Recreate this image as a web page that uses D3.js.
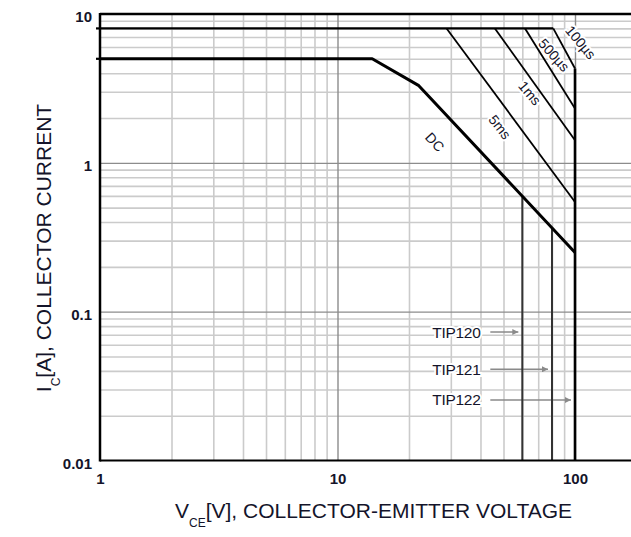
<!DOCTYPE html>
<html>
<head>
<meta charset="utf-8">
<title>TIP120 - Safe Operating Area</title>
<script src="https://cdn.jsdelivr.net/npm/d3@7"></script>
<style>
	body { margin: 0; background: #fff; }
	svg { display: block; font-family: "Liberation Sans", Arial, sans-serif; }
	.grid-minor line { stroke: #cbcbcb; stroke-width: 1.6; }
	.grid-major line { stroke: #8c8c8c; stroke-width: 1.4; }
	.tick-label text { font-size: 15px; font-weight: bold; fill: #14142a; }
	.curve-label { font-size: 14px; fill: #14142a; stroke: #fff; stroke-width: 4px; paint-order: stroke; }
	.dev-label { font-size: 15.5px; fill: #14142a; stroke: #fff; stroke-width: 4px; paint-order: stroke; letter-spacing: -0.3px; }
	.title { font-size: 21px; fill: #14142a; }
</style>
</head>
<body>
<div id="chart"></div>
<script>
// ---- data ----
var xDecades = [1, 10, 100];
var xDecadeLabels = ["1", "10", "100"];
var yDecades = [0.01, 0.1, 1, 10];
var yDecadeLabels = ["0.01", "0.1", "1", "10"];
var xMinor = [2, 3, 4, 5, 6, 7, 8, 9, 20, 30, 40, 50, 60, 70, 80, 90, 200];
var yMinor = [0.02, 0.03, 0.04, 0.05, 0.06, 0.07, 0.08, 0.09,
              0.2, 0.3, 0.4, 0.5, 0.6, 0.7, 0.8, 0.9,
              2, 3, 4, 5, 6, 7, 8, 9];

// DC limit (Vce, Ic)
var dcVce = [1, 14, 22, 100];
var dcIc  = [5, 5, 3.3, 0.25];

// pulsed limits: start on the 8 A line, end on the 100 V line
var pulseIcMax = 8;
var pulseNames  = ["5ms", "1ms", "500µs", "100µs"];
var pulseStartV = [28.8, 46, 61.6, 81];
var pulseEndIc  = [0.546, 1.42, 2.32, 4.3];

// curve labels
var curveLabels = ["DC", "5ms", "1ms", "500µs", "100µs"];
var curveLabelV = [25.7, 48.3, 64.6, 81.6, 105.7];
var curveLabelI = [1.38, 1.74, 2.94, 5.30, 6.45];
var curveLabelAngle = [47, 52, 50, 48, 50];

// device voltage limits
var devices  = ["TIP120", "TIP121", "TIP122"];
var devVceo  = [60, 80, 100];
var devLabelI = [0.073, 0.041, 0.0255];
var devLabelV = 40;
var devArrowV = 44;

// ---- layout ----
var width = 631, height = 537;
var plotLeft = 100, plotTop = 14, plotBottom = 460.5;
var decadeW = 237.5;

var svg = d3.select("#chart").append("svg")
	.attr("width", width)
	.attr("height", height);

var x = d3.scaleLog().domain([1, 200]).range([plotLeft, plotLeft + decadeW * Math.log10(200)]);
var y = d3.scaleLog().domain([0.01, 10]).range([plotBottom, plotTop]);

var plotW = x(200) - plotLeft;
var plotH = plotBottom - plotTop;

var defs = svg.append("defs");
defs.append("marker")
	.attr("id", "arrow")
	.attr("viewBox", "0 0 10 10")
	.attr("refX", 10).attr("refY", 5)
	.attr("markerWidth", 9).attr("markerHeight", 6)
	.attr("markerUnits", "userSpaceOnUse")
	.attr("orient", "auto")
	.append("path")
	.attr("d", "M0,0 L10,5 L0,10 z")
	.attr("fill", "#8a8a8a");

// grids
svg.append("g").attr("class", "grid-minor")
	.attr("transform", "translate(0," + plotBottom + ")")
	.call(d3.axisBottom(x).tickValues(xMinor).tickSize(-plotH).tickFormat(""))
	.call(function(g) { g.select(".domain").remove(); });
svg.append("g").attr("class", "grid-minor")
	.attr("transform", "translate(" + plotLeft + ",0)")
	.call(d3.axisLeft(y).tickValues(yMinor).tickSize(-plotW).tickFormat(""))
	.call(function(g) { g.select(".domain").remove(); });
svg.append("g").attr("class", "grid-major")
	.attr("transform", "translate(0," + plotBottom + ")")
	.call(d3.axisBottom(x).tickValues([10, 100]).tickSize(-plotH).tickFormat(""))
	.call(function(g) { g.select(".domain").remove(); });
svg.append("g").attr("class", "grid-major")
	.attr("transform", "translate(" + plotLeft + ",0)")
	.call(d3.axisLeft(y).tickValues([0.1, 1]).tickSize(-plotW).tickFormat(""))
	.call(function(g) { g.select(".domain").remove(); });

// labels for curves (white halo breaks the grid)
curveLabels.forEach(function(t, i) {
	svg.append("text")
		.attr("class", "curve-label")
		.attr("transform", "translate(" + x(curveLabelV[i]) + "," + y(curveLabelI[i]) + ") rotate(" + curveLabelAngle[i] + ")")
		.attr("text-anchor", "middle")
		.attr("dominant-baseline", "central")
		.text(t);
});

// device labels + arrows
devices.forEach(function(d, i) {
	svg.append("text")
		.attr("class", "dev-label")
		.attr("x", x(devLabelV))
		.attr("y", y(devLabelI[i]))
		.attr("text-anchor", "end")
		.attr("dominant-baseline", "central")
		.text(d);
	svg.append("line")
		.attr("x1", x(devArrowV)).attr("x2", x(devVceo[i]) - 4)
		.attr("y1", y(devLabelI[i])).attr("y2", y(devLabelI[i]))
		.attr("stroke", "#8a8a8a").attr("stroke-width", 1.5)
		.attr("marker-end", "url(#arrow)");
});

var line = d3.line().x(function(d) { return x(d[0]); }).y(function(d) { return y(d[1]); });

// pulse lines
pulseNames.forEach(function(n, i) {
	svg.append("path")
		.attr("d", line([[pulseStartV[i], pulseIcMax], [100, pulseEndIc[i]]]))
		.attr("fill", "none").attr("stroke", "#000").attr("stroke-width", 1.8);
});

// Ic pulse max line (small stub left of the axis, as in the datasheet)
svg.append("path")
	.attr("d", line([[1, pulseIcMax], [pulseStartV[3], pulseIcMax]]))
	.attr("fill", "none").attr("stroke", "#000").attr("stroke-width", 2.2);
svg.append("line").attr("x1", plotLeft - 4).attr("x2", plotLeft)
	.attr("y1", y(pulseIcMax)).attr("y2", y(pulseIcMax))
	.attr("stroke", "#000").attr("stroke-width", 2.2);
svg.append("line").attr("x1", plotLeft - 4).attr("x2", plotLeft)
	.attr("y1", y(dcIc[0])).attr("y2", y(dcIc[0]))
	.attr("stroke", "#000").attr("stroke-width", 2.2);

// DC line value at a given Vce (log-log interpolation)
function dcAt(v) {
	for (var i = 0; i < dcVce.length - 1; i++) {
		if (v <= dcVce[i + 1]) {
			var t = Math.log(v / dcVce[i]) / Math.log(dcVce[i + 1] / dcVce[i]);
			return Math.exp(Math.log(dcIc[i]) + t * Math.log(dcIc[i + 1] / dcIc[i]));
		}
	}
	return dcIc[dcIc.length - 1];
}

// device Vceo limits
devVceo.forEach(function(v, i) {
	var topI = (v === 100) ? pulseEndIc[3] : dcAt(v);
	svg.append("path")
		.attr("d", line([[v, topI], [v, 0.01]]))
		.attr("stroke", v === 100 ? "#000" : "#333")
		.attr("stroke-width", v === 100 ? 2.6 : 2);
});

// DC curve
svg.append("path")
	.attr("d", line(dcVce.map(function(v, i) { return [v, dcIc[i]]; })))
	.attr("fill", "none").attr("stroke", "#000").attr("stroke-width", 3)
	.attr("stroke-linejoin", "round");

// frame: top, left, bottom
svg.append("line").attr("x1", plotLeft).attr("x2", width).attr("y1", plotTop).attr("y2", plotTop)
	.attr("stroke", "#000").attr("stroke-width", 2.5);
svg.append("line").attr("x1", plotLeft).attr("x2", plotLeft).attr("y1", plotTop - 1).attr("y2", plotBottom + 1)
	.attr("stroke", "#000").attr("stroke-width", 2.5);
svg.append("line").attr("x1", plotLeft).attr("x2", width).attr("y1", plotBottom).attr("y2", plotBottom)
	.attr("stroke", "#000").attr("stroke-width", 2);

// tick labels
svg.append("g").attr("class", "tick-label")
	.attr("transform", "translate(0," + plotBottom + ")")
	.call(d3.axisBottom(x).tickValues(xDecades).tickSize(0).tickPadding(12.5)
		.tickFormat(function(d, i) { return xDecadeLabels[i]; }))
	.call(function(g) { g.select(".domain").remove(); });
svg.append("g").attr("class", "tick-label")
	.attr("transform", "translate(" + plotLeft + ",0)")
	.call(d3.axisLeft(y).tickValues(yDecades).tickSize(0).tickPadding(8)
		.tickFormat(function(d, i) { return yDecadeLabels[i]; }))
	.call(function(g) {
		g.select(".domain").remove();
		g.selectAll("text").attr("dy", "0.52em");
	});

// axis titles
var xt = svg.append("text").attr("class", "title")
	.attr("x", 373.5).attr("y", 518).attr("text-anchor", "middle");
xt.append("tspan").text("V");
xt.append("tspan").attr("font-size", "12px").attr("dy", 9).text("CE");
xt.append("tspan").attr("dy", -9).text("[V], COLLECTOR-EMITTER VOLTAGE");

var yt = svg.append("text").attr("class", "title")
	.attr("transform", "translate(51,248) rotate(-90)")
	.attr("text-anchor", "middle");
yt.append("tspan").text("I");
yt.append("tspan").attr("font-size", "12px").attr("dy", 9).text("C");
yt.append("tspan").attr("dy", -9).text("[A], COLLECTOR CURRENT");
</script>
</body>
</html>
